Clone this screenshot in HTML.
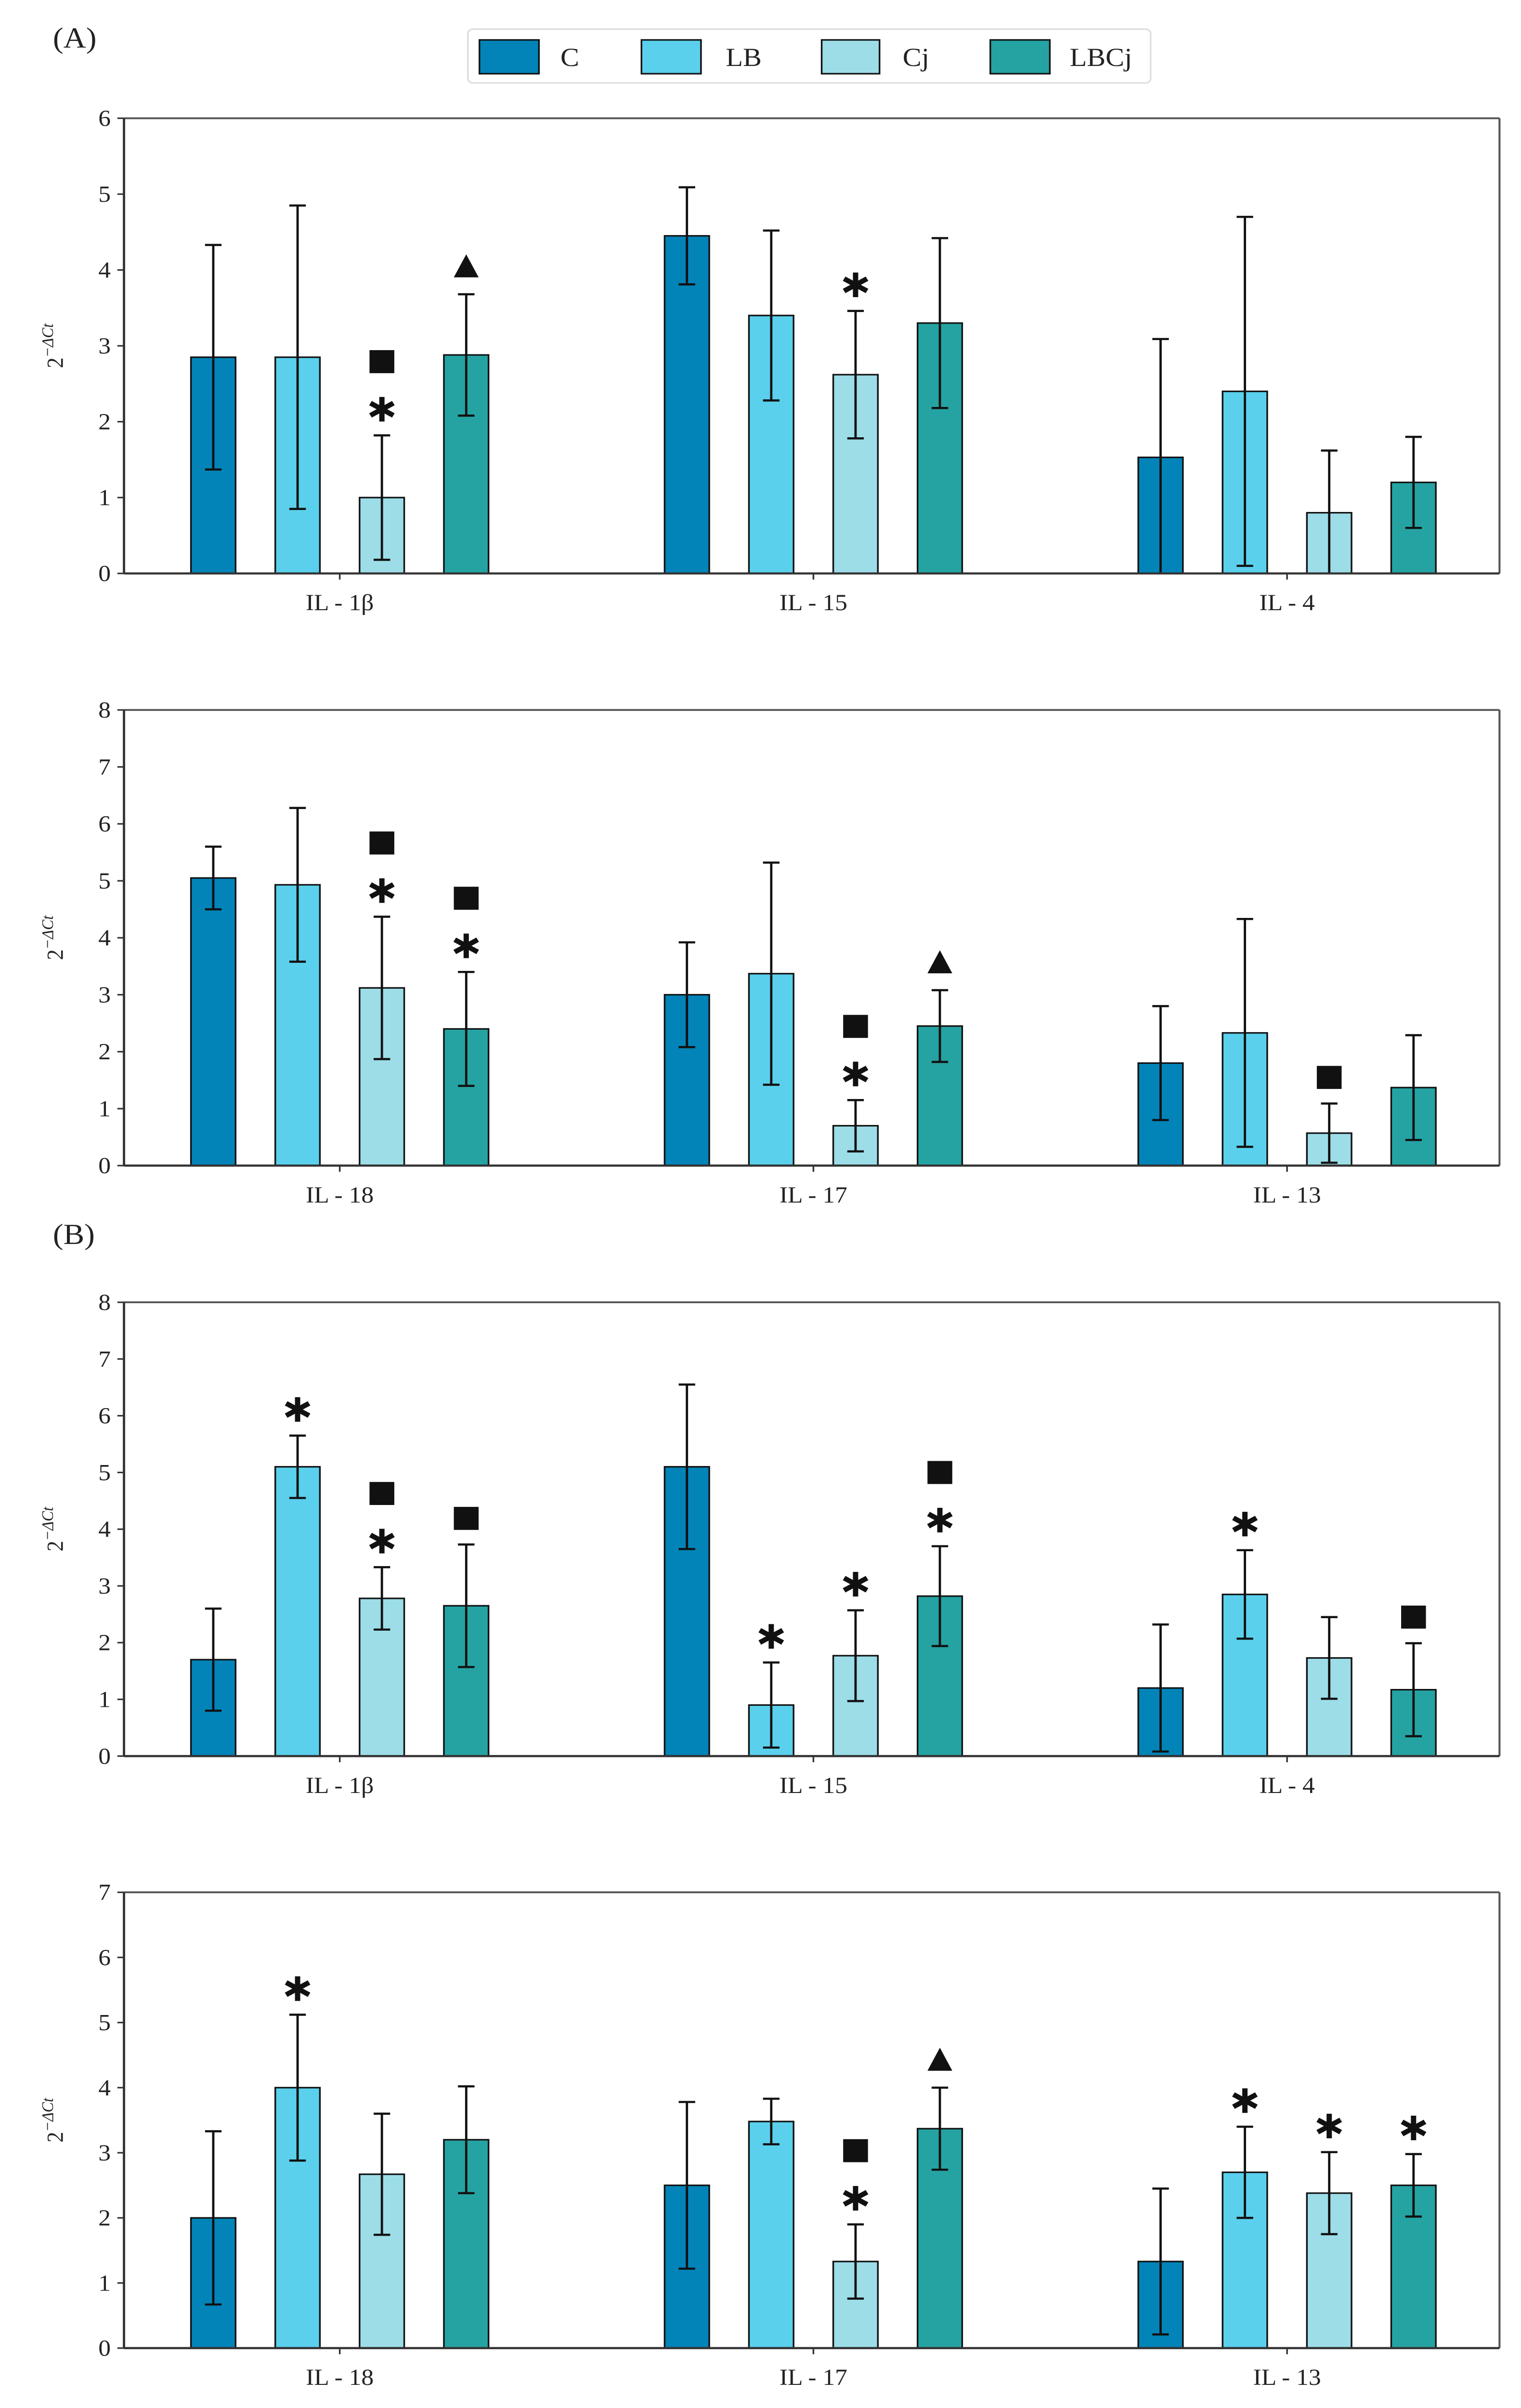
<!DOCTYPE html>
<html><head><meta charset="utf-8"><style>
html,body{margin:0;padding:0;background:#fff;width:100%;height:100%;overflow:hidden;}
#root{display:block;position:fixed;left:0;top:0;width:100vw;height:100vh;}
text{font-family:"Liberation Serif",serif;fill:#222;}
</style></head><body>
<svg id="root" viewBox="0 0 920 1568" preserveAspectRatio="none" xmlns="http://www.w3.org/2000/svg">
<g id="fig">
<text x="32" y="31" font-size="19">(A)</text>
<text x="32" y="810" font-size="19">(B)</text>
<g>
<rect x="283" y="19" width="413" height="35" rx="3" fill="#fff" stroke="#ddd" stroke-width="1"/>
<g><rect x="290" y="26" width="36" height="22" fill="#0284B8" stroke="#111" stroke-width="1"/><text x="339" y="43" font-size="17">C</text></g>
<g><rect x="388" y="26" width="36" height="22" fill="#5AD0EC" stroke="#111" stroke-width="1"/><text x="439" y="43" font-size="17">LB</text></g>
<g><rect x="497" y="26" width="35" height="22" fill="#9CDDE8" stroke="#111" stroke-width="1"/><text x="546" y="43" font-size="17">Cj</text></g>
<g><rect x="599" y="26" width="36" height="22" fill="#25A3A3" stroke="#111" stroke-width="1"/><text x="647" y="43" font-size="17">LBCj</text></g>
</g>
</g>
</svg>
<script>
const seriesNames=["C","LB","Cj","LBCj"];
const colors=["#0284B8","#5AD0EC","#9CDDE8","#25A3A3"];
const p1Cats=["IL - 1β","IL - 15","IL - 4"];
const p1Vals=[[2.85,2.85,1.0,2.88],[4.45,3.4,2.62,3.3],[1.53,2.4,0.8,1.2]];
const p1Errs=[[1.48,2.0,0.82,0.8],[0.64,1.12,0.84,1.12],[1.56,2.3,0.82,0.6]];
const p1Marks=[[[],[],["*","s"],["t"]],[[],[],["*"],[]],[[],[],[],[]]];
const p2Cats=["IL - 18","IL - 17","IL - 13"];
const p2Vals=[[5.05,4.93,3.12,2.4],[3.0,3.37,0.7,2.45],[1.8,2.33,0.57,1.37]];
const p2Errs=[[0.55,1.35,1.25,1.0],[0.92,1.95,0.45,0.63],[1.0,2.0,0.52,0.92]];
const p2Marks=[[[],[],["*","s"],["*","s"]],[[],[],["*","s"],["t"]],[[],[],["s"],[]]];
const p3Cats=["IL - 1β","IL - 15","IL - 4"];
const p3Vals=[[1.7,5.1,2.78,2.65],[5.1,0.9,1.77,2.82],[1.2,2.85,1.73,1.17]];
const p3Errs=[[0.9,0.55,0.55,1.08],[1.45,0.75,0.8,0.88],[1.12,0.78,0.72,0.82]];
const p3Marks=[[[],["*"],["*","s"],["s"]],[[],["*"],["*"],["*","s"]],[[],["*"],[],["s"]]];
const p4Cats=["IL - 18","IL - 17","IL - 13"];
const p4Vals=[[2.0,4.0,2.67,3.2],[2.5,3.48,1.33,3.37],[1.33,2.7,2.38,2.5]];
const p4Errs=[[1.33,1.12,0.93,0.82],[1.28,0.35,0.57,0.63],[1.12,0.7,0.63,0.48]];
const p4Marks=[[[],["*"],[],[]],[[],[],["*","s"],["t"]],[[],["*"],["*"],["*"]]];
const p1Ticks=[0,1,2,3,4,5,6],p2Ticks=[0,1,2,3,4,5,6,7,8],p3Ticks=[0,1,2,3,4,5,6,7,8],p4Ticks=[0,1,2,3,4,5,6,7];

const NS="http://www.w3.org/2000/svg";
const svg=document.getElementById('fig');
function mk(tag,attrs,parent){const e=document.createElementNS(NS,tag);for(const k in attrs)e.setAttribute(k,attrs[k]);parent.appendChild(e);return e;}
const L=75,R=907;
function panel(id,top,bottom,ymax,cats,vals,errs,marks,ticks){
  const g=mk('g',{},svg);
  
  
  const y=v=>bottom-(v/ymax)*(bottom-top);
  const xc=i=>205.5+286.5*i;
  const offs=[-76.5,-25.5,25.5,76.5];const bw=27;
  const fr=mk('g',{},g);
  
  
  mk('line',{x1:L,y1:top,x2:R,y2:top,stroke:'#555','stroke-width':1.2},fr);
  mk('line',{x1:R,y1:top,x2:R,y2:bottom,stroke:'#555','stroke-width':1.2},fr);
  const yt=mk('g',{},g);
  
  
  ticks.forEach(t=>{
    mk('line',{x1:L-4,y1:y(t),x2:L,y2:y(t),stroke:'#333','stroke-width':1},yt);
    const tx=mk('text',{x:L-8,y:y(t)+5,'font-size':15,'text-anchor':'end'},yt);
    tx.textContent=t;
    
    
  });
  const cy=(top+bottom)/2;
  const yl=mk('text',{x:0,y:0,'font-size':14,'text-anchor':'middle',transform:`translate(38,${cy}) rotate(-90)`},g);
  
  
  yl.innerHTML='2<tspan dy="-6" font-size="10" font-style="italic">−ΔCt</tspan>';
  cats.forEach((c,i)=>{
    vals[i].forEach((v,s)=>{
      const x=xc(i)+offs[s];
      const r=mk('rect',{x:x-bw/2,y:y(v),width:bw,height:bottom-y(v),fill:colors[s],stroke:'#111','stroke-width':1},g);
      
      
      const e=errs[i][s];const lo=Math.max(0,v-e),hi=v+e;
      const eg=mk('g',{stroke:'#111','stroke-width':1.4},g);
      
      
      mk('line',{x1:x,y1:y(lo),x2:x,y2:y(hi)},eg);
      mk('line',{x1:x-5,y1:y(hi),x2:x+5,y2:y(hi)},eg);
      if(v-e>0)mk('line',{x1:x-5,y1:y(lo),x2:x+5,y2:y(lo)},eg);
      let my=y(hi)-17;
      marks[i][s].forEach((m,k)=>{
        if(k>0)my-=31;
        const mg=mk('g',{},g);
        
        
        if(m==='*'){
          for(let a=0;a<3;a++){const ang=a*Math.PI/3+Math.PI/2;const dx=8*Math.cos(ang),dy=8*Math.sin(ang);
            mk('line',{x1:x-dx,y1:my-dy,x2:x+dx,y2:my+dy,stroke:'#111','stroke-width':3.2},mg);}
        }else if(m==='s'){
          mk('rect',{x:x-7.5,y:my-7.5,width:15,height:15,fill:'#111'},mg);
        }else{
          mk('polygon',{points:`${x},${my-9} ${x-7.5},${my+6} ${x+7.5},${my+6}`,fill:'#111'},mg);
        }
      });
    });
    mk('line',{x1:xc(i),y1:bottom,x2:xc(i),y2:bottom+4,stroke:'#333','stroke-width':1},g);
    const lt=mk('text',{x:xc(i),y:bottom+24,'font-size':15,'text-anchor':'middle'},g);
    lt.textContent=c;
    
    
  });
  mk('line',{x1:L,y1:top,x2:L,y2:bottom,stroke:'#333','stroke-width':1.4},g);
  mk('line',{x1:L,y1:bottom,x2:R,y2:bottom,stroke:'#333','stroke-width':1.4},g);
}
panel('chart-a-top',77,373.4,6,p1Cats,p1Vals,p1Errs,p1Marks,p1Ticks);
panel('chart-a-bottom',462.3,759,8,p2Cats,p2Vals,p2Errs,p2Marks,p2Ticks);
panel('chart-b-top',848,1143.5,8,p3Cats,p3Vals,p3Errs,p3Marks,p3Ticks);
panel('chart-b-bottom',1232.2,1529,7,p4Cats,p4Vals,p4Errs,p4Marks,p4Ticks);
</script>
</body></html>
